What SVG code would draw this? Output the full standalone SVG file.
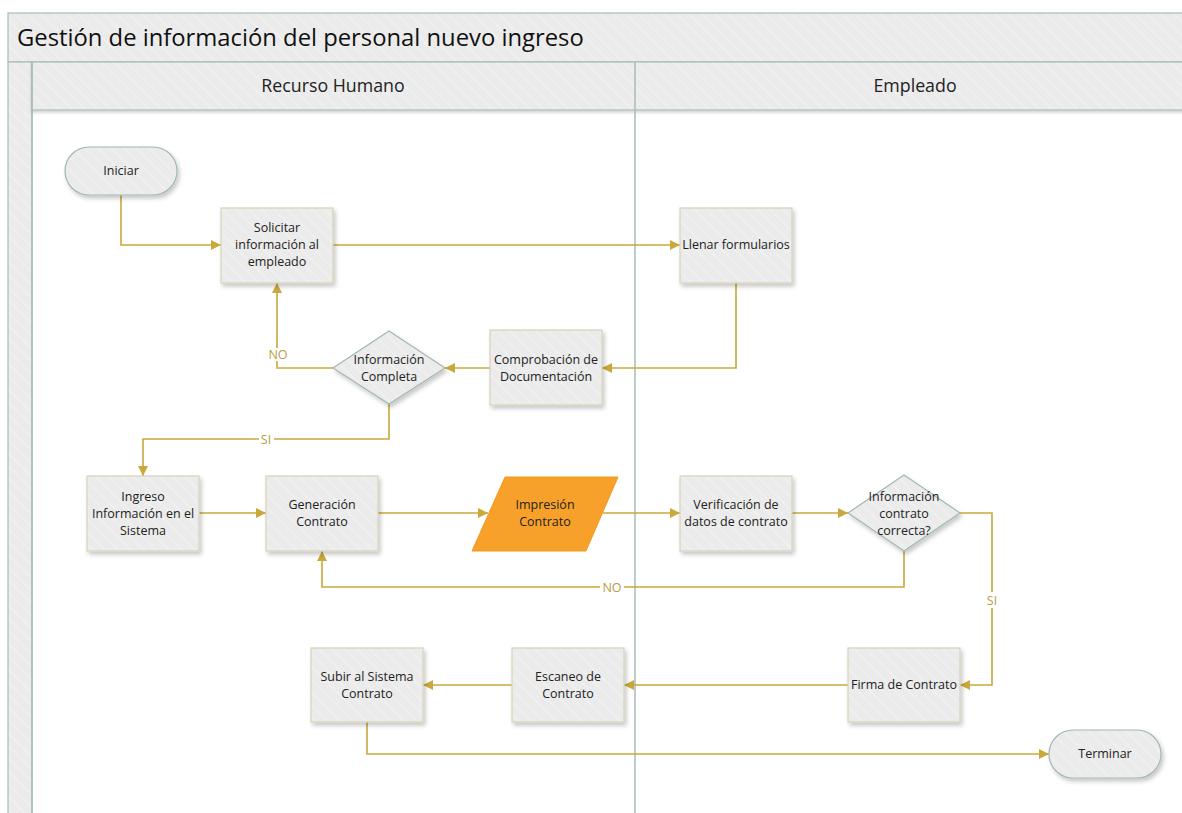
<svg xmlns="http://www.w3.org/2000/svg" width="1182" height="813" viewBox="0 0 1182 813">
  <defs>
    <pattern id="hatch" patternUnits="userSpaceOnUse" width="9" height="9" patternTransform="rotate(-45)">
      <rect width="9" height="9" fill="#ebebeb"/>
      <rect x="0" y="0" width="1.4" height="9" fill="#f1f1f1"/>
    </pattern>
    <filter id="shadow" x="-20%" y="-20%" width="150%" height="150%">
      <feDropShadow dx="2" dy="3" stdDeviation="2" flood-color="#000" flood-opacity="0.22"/>
    </filter>
    <filter id="bandShadow" x="-5%" y="-50%" width="110%" height="200%">
      <feDropShadow dx="0" dy="2" stdDeviation="1.5" flood-color="#000" flood-opacity="0.18"/>
    </filter>
    <marker id="arrow" markerUnits="userSpaceOnUse" markerWidth="11" markerHeight="11" refX="10" refY="5" orient="auto">
      <path d="M0,0 L10,5 L0,10 Z" fill="#c9a93b"/>
    </marker>
  </defs>
  <style>
    .band { fill: url(#hatch); stroke: #a9bdb6; stroke-width: 1.2; }
    .lane { stroke: #a9bdb6; stroke-width: 1.5; fill: none; }
    .box { fill: url(#hatch); stroke: #d8d2b6; stroke-width: 1.2; filter: url(#shadow); }
    .term { fill: url(#hatch); stroke: #a3b8b0; stroke-width: 1.2; filter: url(#shadow); }
    .dec { fill: url(#hatch); stroke: #a3b8b0; stroke-width: 1.2; filter: url(#shadow); }
    .io { fill: #f8a12a; stroke: #f29a20; stroke-width: 1; }
    .t { font-family: "Open Sans", "Noto Sans", sans-serif; font-size: 12.5px; fill: #222; text-anchor: middle; }
    .title { font-family: "Open Sans", "Noto Sans", sans-serif; font-size: 23.8px; fill: #111; }
    .head { font-family: "Open Sans", "Noto Sans", sans-serif; font-size: 17.8px; fill: #222; text-anchor: middle; }
    .edge { fill: none; stroke: #c9a93b; stroke-width: 1.6; }
    .lbl { font-family: "Open Sans", "Noto Sans", sans-serif; font-size: 12.5px; fill: #b89d45; text-anchor: middle; }
  </style>

  <!-- swimlane frame -->
  <g id="pool">
    <rect class="band" x="8" y="13" width="1180" height="49"/>
    <rect class="band" x="8" y="62" width="24" height="760"/>
    <rect class="band" x="32" y="62" width="1156" height="48" filter="url(#bandShadow)"/>
    <line class="lane" x1="635" y1="62" x2="635" y2="813"/>
    <line class="lane" x1="32" y1="62" x2="32" y2="813"/>
    <text class="title" x="17" y="46">Gestión de información del personal nuevo ingreso</text>
    <text class="head" x="333" y="92">Recurso Humano</text>
    <text class="head" x="915" y="92">Empleado</text>
  </g>

  <!-- connectors -->
  <g id="connectors">
    <polyline class="edge" points="121,195 121,245 221,245" marker-end="url(#arrow)"/>
    <polyline class="edge" points="333,245 680,245" marker-end="url(#arrow)"/>
    <polyline class="edge" points="736,283 736,368 602,368" marker-end="url(#arrow)"/>
    <polyline class="edge" points="490,368 445,368" marker-end="url(#arrow)"/>
    <polyline class="edge" points="333,368 277,368 277,283" marker-end="url(#arrow)"/>
    <polyline class="edge" points="389,404 389,439 143,439 143,476" marker-end="url(#arrow)"/>
    <polyline class="edge" points="199,513 266,513" marker-end="url(#arrow)"/>
    <polyline class="edge" points="378,513 488,513" marker-end="url(#arrow)"/>
    <polyline class="edge" points="603,513 680,513" marker-end="url(#arrow)"/>
    <polyline class="edge" points="792,513 848,513" marker-end="url(#arrow)"/>
    <polyline class="edge" points="904,551 904,587 322,587 322,551" marker-end="url(#arrow)"/>
    <polyline class="edge" points="960,513 992,513 992,685 960,685" marker-end="url(#arrow)"/>
    <polyline class="edge" points="848,685 624,685" marker-end="url(#arrow)"/>
    <polyline class="edge" points="512,685 423,685" marker-end="url(#arrow)"/>
    <polyline class="edge" points="367,722 367,754 1049,754" marker-end="url(#arrow)"/>
    <!-- connector labels -->
    <rect x="267" y="348" width="22" height="13" fill="#fff"/>
    <text class="lbl" x="278" y="359">NO</text>
    <rect x="259" y="432" width="15" height="14" fill="#fff"/>
    <text class="lbl" x="266" y="444">SI</text>
    <rect x="600" y="580" width="24" height="14" fill="#fff"/>
    <text class="lbl" x="612" y="592">NO</text>
    <rect x="985" y="592" width="15" height="16" fill="#fff"/>
    <text class="lbl" x="992" y="605">SI</text>
  </g>

  <g id="iniciar">
    <rect class="term" x="65" y="147" width="112" height="48" rx="24" ry="24"/>
    <text class="t" x="121" y="175">Iniciar</text>
  </g>
  <g id="solicitar">
    <rect class="box" x="221" y="208" width="112" height="75"/>
    <text class="t" x="277" y="232">Solicitar</text>
    <text class="t" x="277" y="249">información al</text>
    <text class="t" x="277" y="266">empleado</text>
  </g>
  <g id="llenar">
    <rect class="box" x="680" y="208" width="112" height="75"/>
    <text class="t" x="736" y="249">Llenar formularios</text>
  </g>
  <g id="comprobacion">
    <rect class="box" x="490" y="330" width="112" height="75"/>
    <text class="t" x="546" y="364">Comprobación de</text>
    <text class="t" x="546" y="381">Documentación</text>
  </g>
  <g id="info-completa">
    <polygon class="dec" points="389,331 445,368 389,404 333,368"/>
    <text class="t" x="389" y="364">Información</text>
    <text class="t" x="389" y="381">Completa</text>
  </g>
  <g id="ingreso">
    <rect class="box" x="87" y="476" width="112" height="75"/>
    <text class="t" x="143" y="501">Ingreso</text>
    <text class="t" x="143" y="518">Información en el</text>
    <text class="t" x="143" y="535">Sistema</text>
  </g>
  <g id="generacion">
    <rect class="box" x="266" y="476" width="112" height="75"/>
    <text class="t" x="322" y="509">Generación</text>
    <text class="t" x="322" y="526">Contrato</text>
  </g>
  <g id="impresion">
    <polygon class="io" points="505,477 618,477 586,551 472,551"/>
    <text class="t" x="545" y="509">Impresión</text>
    <text class="t" x="545" y="526">Contrato</text>
  </g>
  <g id="verificacion">
    <rect class="box" x="680" y="476" width="112" height="75"/>
    <text class="t" x="736" y="509">Verificación de</text>
    <text class="t" x="736" y="526">datos de contrato</text>
  </g>
  <g id="info-contrato">
    <polygon class="dec" points="904,475 960,513 904,551 848,513"/>
    <text class="t" x="904" y="501">Información</text>
    <text class="t" x="904" y="518">contrato</text>
    <text class="t" x="904" y="535">correcta?</text>
  </g>
  <g id="firma">
    <rect class="box" x="848" y="648" width="112" height="74"/>
    <text class="t" x="904" y="689">Firma de Contrato</text>
  </g>
  <g id="escaneo">
    <rect class="box" x="512" y="648" width="112" height="74"/>
    <text class="t" x="568" y="681">Escaneo de</text>
    <text class="t" x="568" y="698">Contrato</text>
  </g>
  <g id="subir">
    <rect class="box" x="311" y="648" width="112" height="74"/>
    <text class="t" x="367" y="681">Subir al Sistema</text>
    <text class="t" x="367" y="698">Contrato</text>
  </g>
  <g id="terminar">
    <rect class="term" x="1049" y="730" width="112" height="48" rx="24" ry="24"/>
    <text class="t" x="1105" y="758">Terminar</text>
  </g>
</svg>
